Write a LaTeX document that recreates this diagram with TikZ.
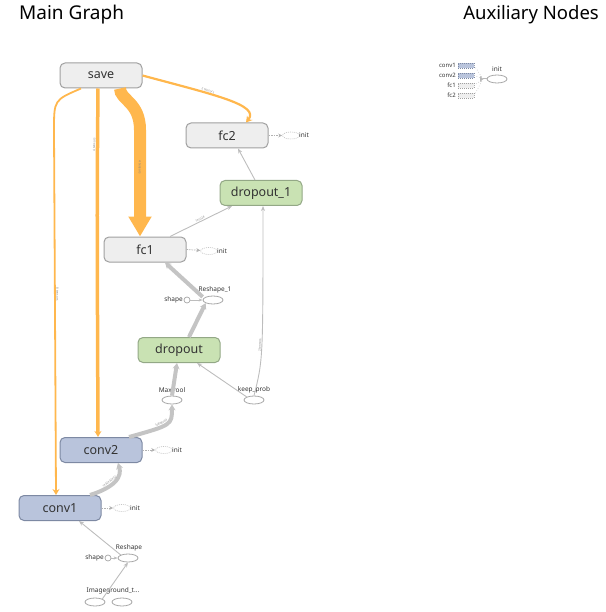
\documentclass[tikz,border=0pt]{standalone}
\usepackage{fontspec}
\setmainfont{Noto Sans}
\usetikzlibrary{arrows.meta,shapes.geometric}
\definecolor{opfill}{HTML}{EEEEEE}
\definecolor{opdraw}{HTML}{A0A0A0}
\definecolor{dropfill}{HTML}{C9E2B3}
\definecolor{dropdraw}{HTML}{93A886}
\definecolor{convfill}{HTML}{B9C4DC}
\definecolor{convdraw}{HTML}{7D89A3}
\definecolor{saveedge}{HTML}{FFB74D}
\definecolor{flowedge}{HTML}{BDBDBD}
\definecolor{txt}{HTML}{333333}

\begin{document}
\begin{tikzpicture}[x=1pt,y=-1pt]
\tikzstyle{grp}=[rectangle,rounded corners=5pt,draw=opdraw,fill=opfill,line width=1pt,minimum width=82pt,minimum height=25pt,inner sep=0pt,text=txt,font=\fontsize{12.5}{14}\selectfont]
\tikzstyle{dropgrp}=[grp,fill=dropfill,draw=dropdraw]
\tikzstyle{convgrp}=[grp,fill=convfill,draw=convdraw]
\tikzstyle{op}=[ellipse,draw=gray!70,line width=0.8pt,minimum width=20pt,minimum height=8pt,inner sep=0pt]
\tikzstyle{initop}=[op,dash pattern=on 1pt off 1pt,draw=gray!50,line width=0.6pt,minimum width=17pt,minimum height=7pt]
\tikzstyle{const}=[circle,draw=gray!70,line width=0.7pt,minimum size=6pt,inner sep=0pt]
\tikzstyle{oplabel}=[font=\fontsize{6.5}{7}\selectfont,text=txt,inner sep=0pt]
\tikzstyle{tiny}=[font=\fontsize{3}{3}\selectfont,text=gray,inner sep=0.5pt,sloped]
\tikzstyle{thin}=[draw=flowedge,line width=0.9pt,-{Stealth[length=5pt,width=4pt]}]
\tikzstyle{thick}=[draw=flowedge!90,line width=4pt,-{Stealth[length=6pt,width=7pt]}]
\tikzstyle{initedge}=[draw=gray!60,dash pattern=on 1.5pt off 1pt,line width=0.7pt,-{Stealth[length=4pt,width=4pt]}]
\tikzstyle{save}=[draw=saveedge]
\useasboundingbox (0,0) rectangle (605,612);

% titles
\node[anchor=west,font=\fontsize{19}{21}\selectfont,inner sep=0pt] (main) at (19,15) {Main Graph};
\node[anchor=east,font=\fontsize{18.5}{21}\selectfont,inner sep=0pt] (aux) at (599,15) {Auxiliary Nodes};

% main graph
\node[grp] (save) at (101,75.5) {save};
\node[grp] (fc2) at (227,135.5) {fc2};
\node[dropgrp] (dropout_1) at (261,193) {dropout\_1};
\node[grp] (fc1) at (145,249.5) {fc1};
\node[dropgrp] (dropout) at (179,350) {dropout};
\node[convgrp] (conv2) at (101,450) {conv2};
\node[convgrp] (conv1) at (60,508) {conv1};

\node[initop] (fc2_init) at (291,135.5) {};
\node[initop] (fc1_init) at (209,251) {};
\node[initop] (conv2_init) at (164,450) {};
\node[initop] (conv1_init) at (122,508) {};
\node[oplabel,anchor=west] (fc2_initl) at (299,135.5) {init};
\node[oplabel,anchor=west] (fc1_initl) at (217,251) {init};
\node[oplabel,anchor=west] (conv2_initl) at (172,450) {init};
\node[oplabel,anchor=west] (conv1_initl) at (130,508) {init};

\node[op] (reshape_1) at (213,300) {};
\node[oplabel] (reshape_1l) at (215,290) {Reshape\_1};
\node[const] (shape_1) at (187,300) {};
\node[oplabel,anchor=east] (shape_1l) at (183,300) {shape};
\node[op] (maxpool) at (172,400) {};
\node[oplabel] (maxpooll) at (172,390) {MaxPool};
\node[op] (keep_prob) at (254,400) {};
\node[oplabel] (keep_probl) at (254,390) {keep\_prob};
\node[op] (reshape) at (128,558) {};
\node[oplabel] (reshapel) at (129,548) {Reshape};
\node[const] (shape) at (108,558) {};
\node[oplabel,anchor=east] (shapel) at (104,558) {shape};
\node[op] (image) at (95,602) {};
\node[op] (ground) at (122,602) {};
\node[oplabel] (imagel) at (113,591) {Imageground\_t...};

% save edges
\draw[save,line width=2.2pt,-{Stealth[length=6pt,width=7pt]}] (save.east) .. controls (215,95) and (260,105) .. ([xshift=19pt]fc2.north)
  node[tiny,pos=0.35,above] {2 tensors};
\draw[save,line width=12pt,-{Triangle[length=20pt,width=22pt]}] ([xshift=19pt]save.south) .. controls (120,100) and (140,102) .. (140,130) -- ([xshift=-5pt]fc1.north)
  node[tiny,pos=0.35,rotate=0] {4 tensors};
\draw[save,line width=3.5pt,-{Stealth[length=6pt,width=7pt]}] ([xshift=-3pt]save.south) .. controls (97,200) .. ([xshift=-3pt]conv2.north)
  node[tiny,pos=0.2,above] {4 tensors};
\draw[save,line width=1.8pt,-{Stealth[length=6pt,width=7pt]}] ([xshift=-20pt]save.south) .. controls (54,100) .. (54,130) -- ([xshift=-4pt]conv1.north)
  node[tiny,pos=0.45,above] {8 tensors};

% data flow
\draw[thick] ([xshift=30pt]conv1.north) .. controls (125,484) and (120,470) .. ([xshift=17pt]conv2.south)
  node[tiny,pos=0.3,above] {?x32x32x32};
\draw[thick] ([xshift=28pt]conv2.north) .. controls (172,425) .. (maxpool.south)
  node[tiny,pos=0.4,above] {?x8x8x64};
\draw[thick] (maxpool.north) -- ([xshift=-2pt]dropout.south);
\draw[thin] (keep_prob.north west) -- ([xshift=18pt]dropout.south);
\draw[thin] (keep_prob.north) .. controls (263,360) .. ([xshift=2pt]dropout_1.south)
  node[tiny,pos=0.5,above] {2 tensors};
\draw[thick] ([xshift=10pt]dropout.north) -- (reshape_1.south west);
\draw[thin,-{Stealth[length=4pt,width=3pt]}] (shape_1) -- (reshape_1);
\draw[thick] ([xshift=-3pt]reshape_1.north west) -- ([xshift=20pt]fc1.south);
\draw[thin] ([xshift=25pt]fc1.north) -- ([xshift=-29pt]dropout_1.south)
  node[tiny,pos=0.5,above] {?x1024};
\draw[thin] ([xshift=-6pt]dropout_1.north) -- ([xshift=11pt]fc2.south);
\draw[thin] (reshape.north west) -- ([xshift=19pt]conv1.south);
\draw[thin,-{Stealth[length=4pt,width=3pt]}] (shape) -- (reshape);
\draw[thin] (image.north east) -- (reshape.south);

% init edges
\draw[initedge] (fc2.east) -- (fc2_init);
\draw[initedge] (fc1.east) -- (fc1_init);
\draw[initedge] (conv2.east) -- (conv2_init);
\draw[initedge] (conv1.east) -- (conv1_init);

% auxiliary nodes
\tikzstyle{auxbox}=[rectangle,minimum width=16pt,minimum height=5pt,inner sep=0pt,dash pattern=on 1pt off 1pt,line width=0.4pt]
\tikzstyle{auxlabel}=[oplabel,font=\fontsize{6}{6}\selectfont,anchor=east]
\node[auxbox,fill=convfill,draw=convdraw] (a_conv1) at (466,65.5) {};
\node[auxbox,fill=convfill,draw=convdraw] (a_conv2) at (466,75.5) {};
\node[auxbox,fill=opfill,draw=opdraw] (a_fc1) at (466,85.5) {};
\node[auxbox,fill=opfill,draw=opdraw] (a_fc2) at (466,95.5) {};
\node[auxlabel] (a_conv1l) at (456,65.5) {conv1};
\node[auxlabel] (a_conv2l) at (456,75.5) {conv2};
\node[auxlabel] (a_fc1l) at (456,85.5) {fc1};
\node[auxlabel] (a_fc2l) at (456,95.5) {fc2};
\coordinate (a_join) at (483,79);
\node[op] (a_init) at (497,79) {};
\node[oplabel] (a_initl) at (497,69) {init};
\draw[gray!50,dotted,line width=0.6pt] (a_conv1.east) -- (a_join);
\draw[gray!50,dotted,line width=0.6pt] (a_conv2.east) -- (a_join);
\draw[gray!50,dotted,line width=0.6pt] (a_fc1.east) -- (a_join);
\draw[gray!50,dotted,line width=0.6pt] (a_fc2.east) -- (a_join);
\fill[gray!55] (a_join) -- ++(-3,-3) -- ++(0,6) -- cycle;
\draw[gray!55,line width=1pt] (a_join) -- (a_init.west);
\end{tikzpicture}
\end{document}
